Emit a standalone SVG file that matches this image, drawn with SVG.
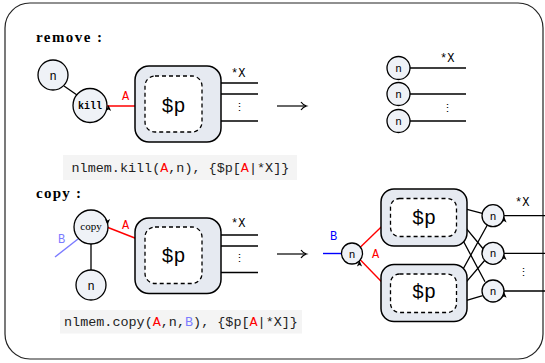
<svg xmlns="http://www.w3.org/2000/svg" xmlns:xlink="http://www.w3.org/1999/xlink" width="545" height="363" viewBox="0 0 545 363">
<style>
.ln{stroke:#000;stroke-width:1.3;fill:none}
.red{stroke:#ff0000;stroke-width:1.4;fill:none}
.node{fill:#eff2f7;stroke:#000;stroke-width:1.3}
.outer{fill:#e6eaf1;stroke:#000;stroke-width:1.5}
.inner{fill:#fff;stroke:#000;stroke-width:1.3;stroke-dasharray:4 3}
.tt{font-family:"Liberation Mono","DejaVu Sans Mono",monospace}
.hd{font-family:"Liberation Serif","DejaVu Serif",serif;font-weight:bold;font-size:15px}
.pp{font-size:20px;text-anchor:middle}
.nn{font-size:12px;text-anchor:middle}
.lbl{font-size:12px}
.code{font-size:13.45px;fill:#222}
.r{fill:#ff0000}
.lb{fill:#7b7bff}
</style>
<defs>
<path id="tip" d="M0,0 L-2.6,6 L0,4.6 L2.6,6 Z" fill="#000"/>
<g id="larrow"><path d="M0,0 H29" stroke="#000" stroke-width="1.2" fill="none"/><path d="M24,-4 Q26,-1 29.5,0 Q26,1 24,4" stroke="#000" stroke-width="1.2" fill="none"/></g>
</defs>
<rect x="5" y="3" width="538" height="356" rx="25" fill="#fff" stroke="#222" stroke-width="1.2"/>

<text class="hd" x="36" y="42" textLength="66" lengthAdjust="spacing">remove :</text>
<text class="hd" x="36" y="198" textLength="45" lengthAdjust="spacing">copy :</text>

<g id="connectors">
  <line class="ln" x1="64" y1="86" x2="77" y2="95"/>
  <line class="red" x1="107" y1="106" x2="145" y2="106"/>
  <path class="ln" d="M200,83 H258 M201,94 H258 M200,121 H258"/>
  <path class="ln" d="M410,68 H466 M410,94 H466 M410,121 H466"/>
  <line x1="55" y1="257" x2="78" y2="239" stroke="#7b7bff" stroke-width="1.4"/>
  <line class="ln" x1="91" y1="244" x2="91" y2="270"/>
  <line class="red" x1="108" y1="227.5" x2="145" y2="242"/>
  <path class="ln" d="M201,235 H258 M202,246 H258 M201,272.5 H258"/>
  <line x1="323" y1="253.5" x2="341.5" y2="253.5" stroke="#0000ff" stroke-width="1.4"/>
  <line class="red" x1="360" y1="247.5" x2="390.5" y2="218"/>
  <line class="red" x1="360" y1="259.5" x2="390.5" y2="291"/>
  <path class="ln" d="M456.5,206.7 L482.3,213.3 M456.5,216.7 L483.3,249 M456.5,228.3 L485,281.7"/>
  <path class="ln" d="M456.5,281 L488.3,223.3 M456.5,293.3 L485,260 M456.5,303.3 L482.7,295.7"/>
  <path class="ln" d="M504,215.7 H545 M504,253.3 H545 M504,291 H545"/>
  <use xlink:href="#larrow" x="277" y="106"/>
  <use xlink:href="#larrow" x="277" y="254"/>
</g>

<g id="n-remove">
  <circle class="node" cx="53" cy="75" r="15"/>
  <text class="tt nn" x="53" y="79.5">n</text>
</g>
<g id="kill">
  <circle class="node" cx="90" cy="105.5" r="17"/>
  <text class="tt" x="90" y="109" font-size="10" font-weight="bold" text-anchor="middle">kill</text>
  <use xlink:href="#tip" transform="translate(108.5,105)"/>
</g>
<g id="box-remove">
  <rect class="outer" x="135" y="66" width="86" height="76" rx="14"/>
  <rect class="inner" x="145" y="76" width="57" height="56" rx="10"/>
  <text class="tt pp" x="173.5" y="112">$p</text>
</g>
<text class="tt lbl r" x="122" y="100">A</text>
<text class="tt lbl" x="231" y="77">*X</text>
<text class="tt" x="239" y="111" font-size="11" text-anchor="middle">⋮</text>

<g id="n-r1"><circle class="node" cx="398.5" cy="68" r="11.5"/><text class="tt" x="398.5" y="72" font-size="11" text-anchor="middle">n</text></g>
<g id="n-r2"><circle class="node" cx="398.5" cy="94" r="11.5"/><text class="tt" x="398.5" y="98" font-size="11" text-anchor="middle">n</text></g>
<g id="n-r3"><circle class="node" cx="398.5" cy="121" r="11.5"/><text class="tt" x="398.5" y="125" font-size="11" text-anchor="middle">n</text></g>
<text class="tt lbl" x="440" y="62">*X</text>
<text class="tt" x="447" y="112" font-size="11" text-anchor="middle">⋮</text>

<rect x="63" y="155" width="234" height="25" fill="#f4f4f4"/>
<text class="tt code" x="71.5" y="172">nlmem.kill(<tspan class="r">A</tspan>,n), {$p[<tspan class="r">A</tspan>|*X]}</text>

<g id="copy">
  <circle class="node" cx="91" cy="227" r="17"/>
  <text x="91" y="230" font-family="'Liberation Serif','DejaVu Serif',serif" font-size="11" text-anchor="middle">copy</text>
  <use xlink:href="#tip" transform="translate(107.5,225) rotate(180)"/>
</g>
<text class="tt lbl lb" x="58" y="243">B</text>
<g id="n-copy">
  <circle class="node" cx="91" cy="285" r="15"/>
  <text class="tt nn" x="91" y="289.5">n</text>
</g>
<g id="box-copy">
  <rect class="outer" x="135" y="218" width="86" height="75.5" rx="14"/>
  <rect class="inner" x="145" y="227" width="57" height="56.5" rx="10"/>
  <text class="tt pp" x="173.5" y="262">$p</text>
</g>
<text class="tt lbl r" x="122" y="229">A</text>
<text class="tt lbl" x="231" y="227">*X</text>
<text class="tt" x="239" y="262" font-size="11" text-anchor="middle">⋮</text>

<rect x="60" y="310" width="242" height="23.5" fill="#f4f4f4"/>
<text class="tt code" x="64" y="326">nlmem.copy(<tspan class="r">A</tspan>,n,<tspan class="lb">B</tspan>), {$p[<tspan class="r">A</tspan>|*X]}</text>

<text class="tt lbl" x="330" y="240" fill="#0000ff">B</text>
<text class="tt lbl r" x="372" y="258">A</text>
<g id="n-mid">
  <circle class="node" cx="352" cy="253.5" r="10.5"/>
  <text class="tt" x="352" y="257.5" font-size="11" text-anchor="middle">n</text>
  <use xlink:href="#tip" transform="translate(359.5,260.5)"/>
</g>
<g id="box-top">
  <rect class="outer" x="381" y="189" width="86" height="57" rx="13"/>
  <rect class="inner" x="390.5" y="198.5" width="66" height="38" rx="9"/>
  <text class="tt pp" x="424" y="224">$p</text>
</g>
<g id="box-bot">
  <rect class="outer" x="381" y="264.5" width="86" height="57" rx="13"/>
  <rect class="inner" x="390.5" y="274" width="66" height="38.5" rx="9"/>
  <text class="tt pp" x="424" y="298">$p</text>
</g>
<g id="n-o1"><circle class="node" cx="493" cy="215.7" r="11"/><text class="tt" x="493" y="219.7" font-size="11" text-anchor="middle">n</text><use xlink:href="#tip" transform="translate(504,216.5)"/></g>
<g id="n-o2"><circle class="node" cx="493" cy="253.3" r="11"/><text class="tt" x="493" y="257.3" font-size="11" text-anchor="middle">n</text><use xlink:href="#tip" transform="translate(504,254)"/></g>
<g id="n-o3"><circle class="node" cx="493" cy="291" r="11"/><text class="tt" x="493" y="295" font-size="11" text-anchor="middle">n</text><use xlink:href="#tip" transform="translate(504,291.8)"/></g>
<text class="tt lbl" x="515" y="206">*X</text>
<text class="tt" x="523" y="276" font-size="11" text-anchor="middle">⋮</text>
</svg>
